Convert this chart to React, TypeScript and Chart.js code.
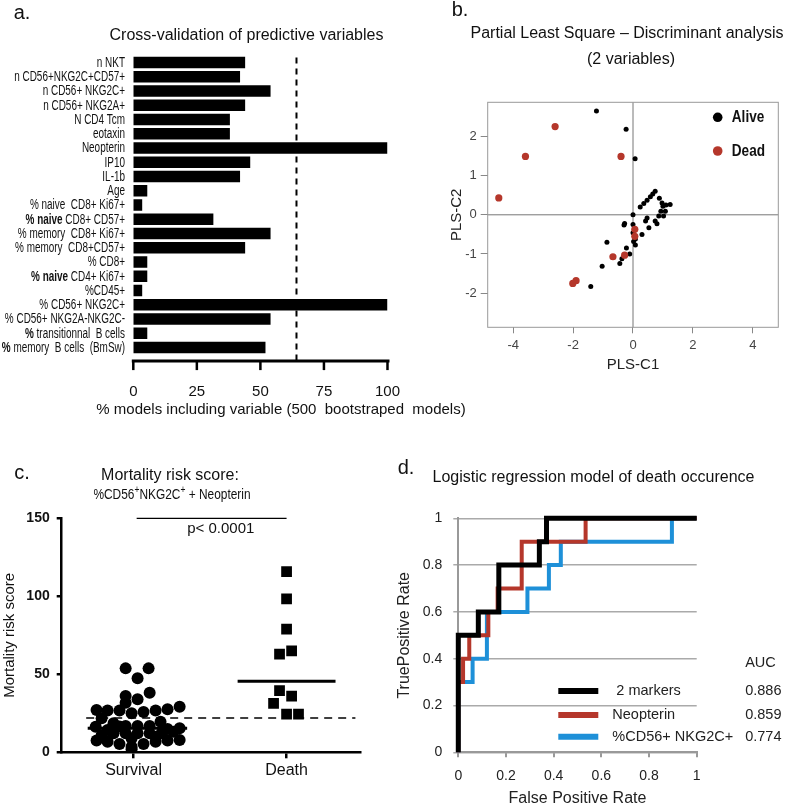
import React, { useEffect, useRef } from 'react';
import { Chart, registerables } from 'chart.js';

Chart.register(...registerables);

const SANS = '"Liberation Sans", Arial, Helvetica, sans-serif';
Chart.defaults.font.family = SANS;

// ---------------- Panel a: cross-validation ----------------
const variableLabels = [
  'n NKT',
  'n CD56+NKG2C+CD57+',
  'n CD56+ NKG2C+',
  'n CD56+ NKG2A+',
  'N CD4 Tcm',
  'eotaxin',
  'Neopterin',
  'IP10',
  'IL-1b',
  'Age',
  '% naive  CD8+ Ki67+',
  '% naive CD8+ CD57+',
  '% memory  CD8+ Ki67+',
  '% memory  CD8+CD57+',
  '% CD8+',
  '% naive CD4+ Ki67+',
  '%CD45+',
  '% CD56+ NKG2C+',
  '% CD56+ NKG2A-NKG2C-',
  '% transitionnal  B cells',
  '% memory  B cells  (BmSw)',
];
const modelsIncludingPct = [44, 42, 54, 44, 38, 38, 100, 46, 42, 5.5, 3.5, 31.5, 54, 44, 5.5, 5.5, 3.5, 100, 54, 5.5, 52];
const inclusionThresholdPct = 64.2;
const pctTicks = [0, 25, 50, 75, 100];
// styling: which leading part of a label is set in bold
const labelBoldPrefix = ['', '', '', '', '', '', '', '', '', '', '', '% naive', '', '', '', '% naive', '', '', '', '%', '%'];

// ---------------- Panel b: PLS-DA ----------------
const aliveC1 = [-1.22, -0.23, 0.07, 0, 0.24, 0.36, 0.47, 0.58, 0.66, 0.74, 0.88, 0.97, 1.0, 1.1, 1.24, 1.08, 0.93, 1.02, 0.86, 0.47, 0.42, 0.74, 0.8, 0.53, -0.28, -0.3, 0, 0, 0.3, 0.08, 0.08, 0.02, -0.87, -0.22, -0.11, -0.37, -0.44, -1.03, -1.41];
const aliveC2 = [2.65, 2.18, 1.43, 0, 0.2, 0.29, 0.37, 0.46, 0.53, 0.6, 0.42, 0.3, 0.22, 0.25, 0.26, 0.09, 0.09, -0.03, -0.03, -0.08, -0.16, -0.16, -0.23, -0.33, -0.22, -0.26, -0.25, -0.46, -0.5, -0.62, -0.77, -0.68, -0.7, -0.85, -1.0, -1.12, -1.24, -1.31, -1.83];
const deadC1 = [-2.6, -3.59, -0.4, -4.48, 0.06, 0.06, -0.67, -0.28, -1.9, -2.01];
const deadC2 = [2.25, 1.49, 1.49, 0.43, -0.37, -0.55, -1.07, -1.03, -1.68, -1.75];
const plsXTicks = [-4, -2, 0, 2, 4];
const plsYTicks = [-2, -1, 0, 1, 2];

// ---------------- Panel c: mortality risk score ----------------
const groupNames = ['Survival', 'Death'];
const survivalX = [0.948, 1.098, 1.026, 1.105, 0.948, 1.026, 0.948, 0.758, 0.83, 0.908, 0.987, 1.065, 1.144, 1.222, 1.301, 0.791, 1.176, 0.869, 0.752, 0.83, 0.908, 0.948, 1.026, 1.105, 1.301, 0.869, 0.948, 1.026, 1.105, 1.183, 1.261, 0.758, 0.83, 0.908, 0.987, 1.065, 1.144, 1.222, 1.301, 0.987, 0.791, 0.987, 1.144, 1.222];
const survivalScore = [53.8, 53.8, 47.4, 38.2, 36.1, 34, 31.8, 27.1, 26.8, 26.8, 25, 25.9, 26.8, 27.6, 29.2, 21.8, 19.6, 18.6, 16.4, 14.3, 16.5, 16.9, 16.9, 16.9, 15.4, 12.2, 12.2, 12.2, 12.2, 12.2, 13.2, 7.5, 6.8, 5.3, 3.6, 5.3, 6.8, 7.5, 7.9, 1.9, 11, 9, 10, 15];
const deathX = [2.0, 2.0, 2.0, 1.954, 2.033, 1.954, 2.033, 1.915, 2.0, 2.078];
const deathScore = [115.8, 98.3, 79, 63, 65, 39.5, 36, 31.4, 24.5, 24.5];
const survivalMedian = 15.4;
const deathMedian = 45.5;
const scoreCutoff = 22;
const scoreTicks = [0, 50, 100, 150];
const pValueText = 'p< 0.0001';

// ---------------- Panel d: ROC ----------------
const rocNames = [' 2 markers', 'Neopterin', '%CD56+ NKG2C+'];
const aucValues = ['0.886', '0.859', '0.774'];
const markersFPR = [0, 0, 0.084, 0.084, 0.17, 0.17, 0.34, 0.34, 0.37, 0.37, 1];
const markersTPR = [0, 0.5, 0.5, 0.6, 0.6, 0.8, 0.8, 0.9, 0.9, 1, 1];
const neopterinFPR = [0, 0, 0.02, 0.02, 0.046, 0.046, 0.126, 0.126, 0.165, 0.165, 0.266, 0.266, 0.534, 0.534, 1];
const neopterinTPR = [0, 0.3, 0.3, 0.4, 0.4, 0.5, 0.5, 0.6, 0.6, 0.7, 0.7, 0.9, 0.9, 1, 1];
const nkFPR = [0, 0, 0.06, 0.06, 0.12, 0.12, 0.29, 0.29, 0.38, 0.38, 0.43, 0.43, 0.896, 0.896, 1];
const nkTPR = [0, 0.3, 0.3, 0.4, 0.4, 0.6, 0.6, 0.7, 0.7, 0.8, 0.8, 0.9, 0.9, 1, 1];
const rateTicks = [0, 0.2, 0.4, 0.6, 0.8, 1];

// ---------------- helpers ----------------
type Box = { x: number; y: number; w: number; h: number };
type Area = { l: number; t: number; r: number; b: number };

const zip = (xs: number[], ys: number[]) => xs.map((x, i) => ({ x, y: ys[i] }));

function fit(box: Box, a: Area) {
  return {
    padding: { top: a.t - box.y, right: box.x + box.w - a.r, left: 0, bottom: 0 },
    yW: a.l - box.x,
    xH: box.y + box.h - a.b,
  };
}

const setTicks = (vals: number[]) => (s: any) => {
  s.ticks = vals.map((v) => ({ value: v }));
};

function ChartCanvas({ box, make }: { box: Box; make: (c: HTMLCanvasElement) => Chart }) {
  const ref = useRef<HTMLCanvasElement>(null);
  useEffect(() => {
    const ch = make(ref.current as HTMLCanvasElement);
    return () => ch.destroy();
  }, []);
  return (
    <canvas
      ref={ref}
      width={box.w}
      height={box.h}
      style={{ position: 'absolute', left: box.x, top: box.y, width: box.w, height: box.h }}
    />
  );
}

function Txt({ x, y, size, bold, children, sx }: any) {
  return (
    <div
      style={{
        position: 'absolute',
        left: x,
        top: y,
        transform: `translate(-50%, -50%)${sx ? ` scaleX(${sx})` : ''}`,
        font: `${bold ? 'bold ' : ''}${size}px ${SANS}`,
        lineHeight: 1,
        whiteSpace: 'pre',
        color: '#111',
      }}
    >
      {children}
    </div>
  );
}

const baseOpts = {
  responsive: false,
  animation: false as const,
  events: [] as any[],
};

// ---------------- Panel a ----------------
const boxA: Box = { x: 0, y: 0, w: 420, h: 420 };
const areaA: Area = { l: 133.3, t: 55.4, r: 407.3, b: 354.6 };

const panelAPlugin = {
  id: 'panelA',
  afterDraw(chart: any) {
    const { ctx, chartArea: a, scales } = chart;
    const xs = scales.x;
    const ys = scales.y;
    ctx.save();
    ctx.fillStyle = '#111';
    ctx.textBaseline = 'middle';
    variableLabels.forEach((lab, i) => {
      const py = ys.getPixelForValue(i);
      const bold = labelBoldPrefix[i];
      const rest = lab.slice(bold.length);
      ctx.save();
      ctx.translate(a.left - 8.3, py + 0.5);
      ctx.scale(0.71, 1);
      ctx.font = `bold 14px ${SANS}`;
      const wb = bold ? ctx.measureText(bold).width : 0;
      ctx.font = `14px ${SANS}`;
      const wr = ctx.measureText(rest).width;
      let cx = -(wb + wr);
      if (bold) {
        ctx.font = `bold 14px ${SANS}`;
        ctx.fillText(bold, cx, 0);
        cx += wb;
        ctx.font = `14px ${SANS}`;
      }
      ctx.fillText(rest, cx, 0);
      ctx.restore();
    });
    const axisY = a.bottom + 6.5;
    ctx.strokeStyle = '#000';
    ctx.lineWidth = 3;
    ctx.beginPath();
    ctx.moveTo(a.left - 1.5, axisY);
    ctx.lineTo(a.right + 2, axisY);
    ctx.stroke();
    ctx.lineWidth = 2.5;
    pctTicks.forEach((v) => {
      const px = xs.getPixelForValue(v);
      ctx.beginPath();
      ctx.moveTo(px, axisY);
      ctx.lineTo(px, axisY + 9);
      ctx.stroke();
    });
    const tx = xs.getPixelForValue(inclusionThresholdPct);
    ctx.setLineDash([6, 5]);
    ctx.lineWidth = 2;
    ctx.beginPath();
    ctx.moveTo(tx, a.top + 2);
    ctx.lineTo(tx, axisY);
    ctx.stroke();
    ctx.restore();
  },
};

function makeA(c: HTMLCanvasElement) {
  const f = fit(boxA, areaA);
  return new Chart(c, {
    type: 'bar',
    data: {
      labels: variableLabels,
      datasets: [
        {
          data: modelsIncludingPct,
          backgroundColor: '#000',
          borderWidth: 0,
          barPercentage: 0.82,
          categoryPercentage: 1,
        },
      ],
    },
    options: {
      ...baseOpts,
      indexAxis: 'y',
      layout: { padding: f.padding },
      plugins: { legend: { display: false }, tooltip: { enabled: false } },
      scales: {
        x: {
          type: 'linear',
          min: 0,
          max: 100,
          afterBuildTicks: setTicks(pctTicks),
          afterFit: (s: any) => { s.height = f.xH; },
          grid: { display: false },
          border: { display: false },
          ticks: { color: '#111', font: { size: 15 }, padding: 20 },
        },
        y: {
          type: 'category',
          afterFit: (s: any) => { s.width = f.yW; },
          grid: { display: false },
          border: { display: false },
          ticks: { display: false },
        },
      },
    } as any,
    plugins: [panelAPlugin],
  });
}

// ---------------- Panel b ----------------
const boxB: Box = { x: 420, y: 0, w: 367, h: 420 };
const areaB: Area = { l: 487.7, t: 102.3, r: 778.3, b: 327.3 };

const panelBPlugin = {
  id: 'panelB',
  beforeDatasetsDraw(chart: any) {
    const { ctx, chartArea: a, scales } = chart;
    ctx.save();
    ctx.strokeStyle = '#777';
    ctx.lineWidth = 1;
    const x0 = scales.x.getPixelForValue(0);
    const y0 = scales.y.getPixelForValue(0);
    ctx.beginPath();
    ctx.moveTo(x0, a.top);
    ctx.lineTo(x0, a.bottom);
    ctx.moveTo(a.left, y0);
    ctx.lineTo(a.right, y0);
    ctx.stroke();
    ctx.strokeStyle = '#999';
    ctx.strokeRect(a.left, a.top, a.right - a.left, a.bottom - a.top);
    ctx.restore();
  },
  afterDraw(chart: any) {
    const { ctx, chartArea: a } = chart;
    const items = [chart.data.datasets[1], chart.data.datasets[0]];
    ctx.save();
    items.forEach((ds: any, i: number) => {
      const y = a.top + 15 + i * 33.7;
      ctx.fillStyle = ds.backgroundColor;
      ctx.beginPath();
      ctx.arc(a.right - 60.6, y, 4.8, 0, Math.PI * 2);
      ctx.fill();
      ctx.save();
      ctx.translate(a.right - 46.5, y);
      ctx.scale(0.8, 1);
      ctx.fillStyle = '#111';
      ctx.font = `bold 17px ${SANS}`;
      ctx.textBaseline = 'middle';
      ctx.fillText(ds.label, 0, 0);
      ctx.restore();
    });
    ctx.restore();
  },
};

function makeB(c: HTMLCanvasElement) {
  const f = fit(boxB, areaB);
  const tickCommon = { color: '#444', font: { size: 13 }, padding: 4 };
  return new Chart(c, {
    type: 'scatter',
    data: {
      datasets: [
        { label: 'Dead', data: zip(deadC1, deadC2), backgroundColor: '#b5372b', borderWidth: 0, pointRadius: 3.6 },
        { label: 'Alive', data: zip(aliveC1, aliveC2), backgroundColor: '#000', borderWidth: 0, pointRadius: 2.5 },
      ],
    },
    options: {
      ...baseOpts,
      layout: { padding: f.padding },
      plugins: { legend: { display: false }, tooltip: { enabled: false } },
      scales: {
        x: {
          type: 'linear',
          min: -4.85,
          max: 4.85,
          afterBuildTicks: setTicks(plsXTicks),
          afterFit: (s: any) => { s.height = f.xH; },
          grid: { drawOnChartArea: false, tickLength: 6, color: '#888' },
          border: { display: false },
          ticks: tickCommon,
          title: { display: true, text: 'PLS-C1', color: '#222', font: { size: 15 }, padding: { top: 0, bottom: 46 } },
        },
        y: {
          type: 'linear',
          min: -2.87,
          max: 2.87,
          afterBuildTicks: setTicks(plsYTicks),
          afterFit: (s: any) => { s.width = f.yW; },
          grid: { drawOnChartArea: false, tickLength: 7, color: '#888' },
          border: { display: false },
          ticks: tickCommon,
          title: { display: true, text: 'PLS-C2', color: '#222', font: { size: 15 }, padding: { top: 28, bottom: 0 } },
        },
      },
    } as any,
    plugins: [panelBPlugin],
  });
}

// ---------------- Panel c ----------------
const boxC: Box = { x: 0, y: 420, w: 400, h: 387 };
const areaC: Area = { l: 61.7, t: 518.3, r: 360, b: 752.3 };

const panelCPlugin = {
  id: 'panelC',
  afterDraw(chart: any) {
    const { ctx, chartArea: a, scales } = chart;
    ctx.save();
    ctx.fillStyle = '#111';
    ctx.font = `15px ${SANS}`;
    ctx.textAlign = 'center';
    ctx.textBaseline = 'middle';
    ctx.fillText(pValueText, scales.x.getPixelForValue(1.57), a.top + 11);
    ctx.restore();
  },
};

function makeC(c: HTMLCanvasElement) {
  const f = fit(boxC, areaC);
  const line = (pts: any[], w: number, dash: number[] = []) => ({
    type: 'scatter',
    data: pts,
    showLine: true,
    borderColor: '#000',
    borderWidth: w,
    borderDash: dash,
    pointRadius: 0,
    clip: false,
  });
  return new Chart(c, {
    type: 'scatter',
    data: {
      datasets: [
        { data: zip(survivalX, survivalScore), backgroundColor: '#000', borderColor: '#000', borderWidth: 0, pointRadius: 6, pointStyle: 'circle' },
        { data: zip(deathX, deathScore), backgroundColor: '#000', borderColor: '#000', borderWidth: 0, pointRadius: 7.6, pointStyle: 'rect' },
        line([{ x: 0.7, y: survivalMedian }, { x: 1.35, y: survivalMedian }], 3),
        line([{ x: 1.68, y: deathMedian }, { x: 2.32, y: deathMedian }], 3),
        line([{ x: 0.69, y: scoreCutoff }, { x: 2.45, y: scoreCutoff }], 1.5, [8, 6]),
        line([{ x: 1.02, y: 150 }, { x: 2.0, y: 150 }], 1.2),
      ] as any,
    },
    options: {
      ...baseOpts,
      layout: { padding: f.padding },
      plugins: { legend: { display: false }, tooltip: { enabled: false } },
      scales: {
        x: {
          type: 'linear',
          min: 0.53,
          max: 2.48,
          afterBuildTicks: setTicks([1, 2]),
          afterFit: (s: any) => { s.height = f.xH; },
          grid: { drawOnChartArea: false, tickLength: 6, color: '#000', lineWidth: 2.5 },
          border: { color: '#000', width: 2.5 },
          ticks: { color: '#111', font: { size: 16 }, padding: 3, callback: (v: any) => groupNames[Math.round(v) - 1] },
        },
        y: {
          type: 'linear',
          min: 0,
          max: 150,
          afterBuildTicks: setTicks(scoreTicks),
          afterFit: (s: any) => { s.width = f.yW; },
          grid: { drawOnChartArea: false, tickLength: 5, color: '#000', lineWidth: 2.5 },
          border: { color: '#000', width: 2.5 },
          ticks: { color: '#111', font: { size: 14, weight: 'bold' }, padding: 7 },
          title: { display: true, text: 'Mortality risk score', color: '#111', font: { size: 15 }, padding: { top: 1, bottom: 0 } },
        },
      },
    } as any,
    plugins: [panelCPlugin],
  });
}

// ---------------- Panel d ----------------
const boxD: Box = { x: 385, y: 420, w: 402, h: 387 };
const areaD: Area = { l: 458.3, t: 518.3, r: 696.7, b: 752.3 };

const panelDPlugin = {
  id: 'panelD',
  afterDraw(chart: any) {
    const { ctx, chartArea: a } = chart;
    const rows = [a.bottom - 61.3, a.bottom - 37.3, a.bottom - 15.6];
    ctx.save();
    ctx.font = `14.5px ${SANS}`;
    ctx.textBaseline = 'middle';
    ctx.fillStyle = '#222';
    ctx.fillText('AUC', a.right + 48.5, a.bottom - 89.6);
    chart.data.datasets.forEach((ds: any, i: number) => {
      const y = rows[i];
      ctx.strokeStyle = ds.borderColor;
      ctx.lineWidth = 6;
      ctx.beginPath();
      ctx.moveTo(a.left + 100, y);
      ctx.lineTo(a.left + 140, y);
      ctx.stroke();
      ctx.fillStyle = '#222';
      ctx.fillText(ds.label, a.left + 154, y);
      ctx.fillText(aucValues[i], a.right + 48.5, y);
    });
    ctx.restore();
  },
};

function makeD(c: HTMLCanvasElement) {
  const f = fit(boxD, areaD);
  const roc = (label: string, fpr: number[], tpr: number[], color: string, w: number) => ({
    label,
    data: zip(fpr, tpr),
    showLine: true,
    borderColor: color,
    backgroundColor: color,
    borderWidth: w,
    pointRadius: 0,
    borderJoinStyle: 'miter',
    clip: false,
  });
  const tickFmt = (v: any) => String(Math.round(v * 10) / 10);
  return new Chart(c, {
    type: 'scatter',
    data: {
      datasets: [
        roc(rocNames[0], markersFPR, markersTPR, '#000000', 5),
        roc(rocNames[1], neopterinFPR, neopterinTPR, '#b5372b', 4),
        roc(rocNames[2], nkFPR, nkTPR, '#1e90d8', 4),
      ] as any,
    },
    options: {
      ...baseOpts,
      layout: { padding: f.padding },
      plugins: { legend: { display: false }, tooltip: { enabled: false } },
      scales: {
        x: {
          type: 'linear',
          min: 0,
          max: 1,
          afterBuildTicks: setTicks(rateTicks),
          afterFit: (s: any) => { s.height = f.xH; },
          grid: { drawOnChartArea: false, tickLength: 5, color: '#999', lineWidth: 2 },
          border: { color: '#999', width: 2 },
          ticks: { color: '#222', font: { size: 14 }, padding: 10, callback: tickFmt },
          title: { display: true, text: 'False Positive Rate', color: '#222', font: { size: 16, lineHeight: 1 }, padding: { top: 0, bottom: 0 } },
        },
        y: {
          type: 'linear',
          min: 0,
          max: 1,
          afterBuildTicks: setTicks(rateTicks),
          afterFit: (s: any) => { s.width = f.yW; },
          grid: { color: '#aaa', lineWidth: 1.5, tickLength: 5 },
          border: { color: '#999', width: 2 },
          ticks: { color: '#222', font: { size: 14 }, padding: 11, callback: tickFmt },
          title: { display: true, text: 'TruePositive Rate', color: '#222', font: { size: 16, lineHeight: 1 }, padding: { top: 12, bottom: 0 } },
        },
      },
    } as any,
    plugins: [panelDPlugin],
  });
}

export default function App() {
  return (
    <div style={{ position: 'absolute', left: 0, top: 0, width: 787, height: 807, background: '#fff', overflow: 'hidden' }}>
      <ChartCanvas box={boxA} make={makeA} />
      <ChartCanvas box={boxB} make={makeB} />
      <ChartCanvas box={boxC} make={makeC} />
      <ChartCanvas box={boxD} make={makeD} />

      <Txt x={22} y={12} size={20}>a.</Txt>
      <Txt x={246.5} y={35} size={16}>Cross-validation of predictive variables</Txt>
      <Txt x={281} y={408} size={15}>% models including variable (500  bootstraped  models)</Txt>

      <Txt x={460} y={9} size={20}>b.</Txt>
      <Txt x={627} y={33} size={16}>Partial Least Square – Discriminant analysis</Txt>
      <Txt x={631} y={59} size={16}>(2 variables)</Txt>

      <Txt x={22} y={472} size={20}>c.</Txt>
      <Txt x={170} y={475} size={16}>Mortality risk score:</Txt>
      <Txt x={172} y={493} size={14} sx={0.85}>
        %CD56<sup style={{ fontSize: 10 }}>+</sup>NKG2C<sup style={{ fontSize: 10 }}>+</sup> + Neopterin
      </Txt>

      <Txt x={406} y={467} size={20}>d.</Txt>
      <Txt x={593.5} y={477} size={16}>Logistic regression model of death occurence</Txt>
    </div>
  );
}
